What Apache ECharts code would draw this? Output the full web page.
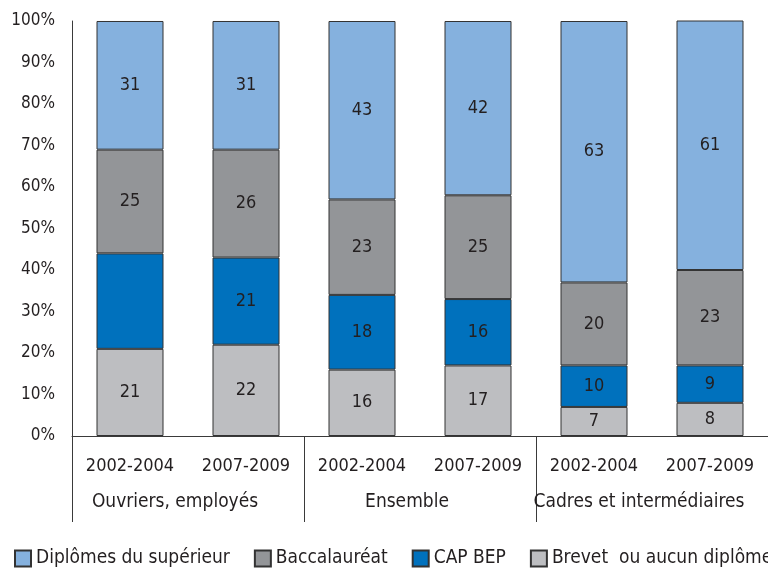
<!DOCTYPE html>
<html>
<head>
<meta charset="utf-8">
<script src="https://cdn.jsdelivr.net/npm/echarts@6/dist/echarts.min.js"></script>
<style>
  html, body { margin: 0; padding: 0; background: #fff; }
  #chart { width: 768px; height: 569px; }
</style>
</head>
<body>
<div id="chart"></div>
<script>
// Periods on the bar axis, and the social groups they belong to
const periods = ['2002-2004', '2007-2009', '2002-2004', '2007-2009', '2002-2004', '2007-2009'];
const groups = ['Ouvriers, employés', 'Ensemble', 'Cadres et intermédiaires'];
const yTicks = [0, 10, 20, 30, 40, 50, 60, 70, 80, 90, 100];

// Share (%) of each diploma level, stacked from the bottom up
const brevet = [21, 22, 16, 17, 7, 8];
const capBep = [23, 21, 18, 16, 10, 9];
const bac = [25, 26, 23, 25, 20, 23];
const superieur = [31, 31, 43, 42, 63, 61];
// The CAP BEP segment of the first bar carries no printed value
const capBepShown = [false, true, true, true, true, true];

const FONT = '"DejaVu Sans Condensed", "DejaVu Sans"';
const TEXT = '#231f20';
const FS_NUM = 18;   // numbers: bar values, periods
const FS_TXT = 19;   // words: groups, legend

function mkSeries(name, values, color, shown) {
  return {
    name: name,
    type: 'bar',
    stack: 'total',
    barWidth: 67,
    data: values.map((v, i) => ({
      value: v,
      label: { show: shown ? shown[i] : true }
    })),
    itemStyle: { color: color, borderColor: '#333', borderWidth: 1 },
    label: {
      show: true,
      position: 'inside',
      color: TEXT,
      fontFamily: FONT,
      fontSize: FS_NUM
    }
  };
}

const chart = echarts.init(document.getElementById('chart'));
chart.setOption({
  animation: false,
  backgroundColor: '#fff',
  grid: { left: 72, top: 21, width: 702, height: 415 },
  legend: {
    left: 9,
    top: 544,
    width: 1200,
    itemWidth: 16,
    itemHeight: 16,
    itemGap: 24,
    icon: 'rect',
    data: ['Diplômes du supérieur', 'Baccalauréat', 'CAP BEP', 'Brevet  ou aucun diplôme'],
    textStyle: { color: TEXT, fontFamily: FONT, fontSize: FS_TXT }
  },
  xAxis: [
    {
      type: 'category',
      data: periods,
      position: 'bottom',
      axisLine: { show: true, lineStyle: { color: '#3a3a3a', width: 1 } },
      axisTick: { show: false },
      axisLabel: { color: TEXT, fontFamily: FONT, fontSize: FS_NUM, margin: 21, interval: 0 }
    },
    {
      type: 'category',
      data: groups,
      position: 'bottom',
      axisLine: { show: false },
      axisTick: { show: true, length: 86, lineStyle: { color: '#3a3a3a', width: 1 } },
      axisLabel: {
        color: TEXT, fontFamily: FONT, fontSize: FS_TXT, margin: 57, interval: 0,
        padding: [0, 26, 0, 0]
      }
    }
  ],
  yAxis: {
    type: 'value',
    min: yTicks[0],
    max: yTicks[yTicks.length - 1],
    interval: 10,
    axisLine: { show: true, lineStyle: { color: '#3a3a3a', width: 1 } },
    axisTick: { show: false },
    splitLine: { show: false },
    axisLabel: { color: TEXT, fontFamily: FONT, fontSize: 17, margin: 17, formatter: '{value}%' }
  },
  series: [
    mkSeries('Brevet  ou aucun diplôme', brevet, '#bdbec1'),
    mkSeries('CAP BEP', capBep, '#0071bd', capBepShown),
    mkSeries('Baccalauréat', bac, '#939598'),
    mkSeries('Diplômes du supérieur', superieur, '#85b1de')
  ]
});
</script>
</body>
</html>
